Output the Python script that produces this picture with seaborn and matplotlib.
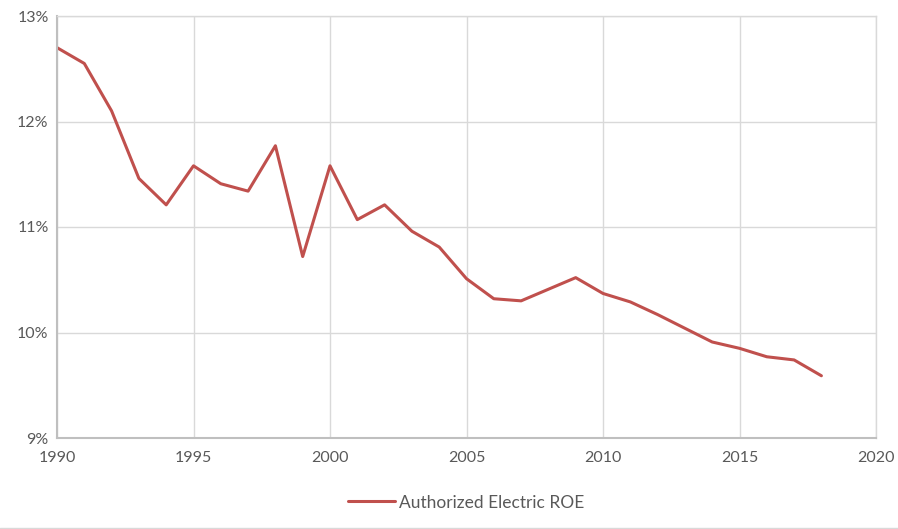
import numpy as np
import pandas as pd
import matplotlib
matplotlib.use("Agg")
import matplotlib.pyplot as plt
import seaborn as sns
from matplotlib.ticker import FuncFormatter

years = list(range(1990, 2019))
roe = [12.70, 12.55, 12.10, 11.46, 11.21, 11.58, 11.41, 11.34, 11.77, 10.72,
       11.58, 11.07, 11.21, 10.96, 10.81, 10.51, 10.32, 10.30, 10.41, 10.52,
       10.37, 10.29, 10.17, 10.04, 9.91, 9.85, 9.77, 9.74, 9.59]
series_name = "Authorized Electric ROE"

df = pd.DataFrame({"Year": years, "ROE": roe, "series": series_name})

sns.set_style("white")
plt.rcParams["font.family"] = ["Lato", "DejaVu Sans"]

fig = plt.figure(figsize=(8.98, 5.29), dpi=100)
ax = fig.add_axes([57 / 898, 1 - 438 / 529, (876 - 57) / 898, (438 - 16) / 529])

sns.lineplot(data=df, x="Year", y="ROE", hue="series", palette=["#C0504D"],
             linewidth=2.2, ax=ax, legend=True)

ax.set_xlim(1990, 2020)
ax.set_ylim(9, 13)
ax.set_xticks(range(1990, 2021, 5))
ax.set_yticks(range(9, 14))
ax.yaxis.set_major_formatter(FuncFormatter(lambda v, p: f"{v:.0f}%"))
ax.grid(True, color="#D9D9D9", linewidth=1)
ax.set_axisbelow(True)
for s in ["top", "right"]:
    ax.spines[s].set_color("#D9D9D9")
    ax.spines[s].set_linewidth(1)
for s in ["left", "bottom"]:
    ax.spines[s].set_color("#BFBFBF")
    ax.spines[s].set_linewidth(1.5)
ax.tick_params(axis="both", length=0, labelsize=11.5, labelcolor="#595959")
ax.tick_params(axis="x", pad=9)
ax.tick_params(axis="y", pad=6)
ax.set_xlabel("")
ax.set_ylabel("")

handles, labels = ax.get_legend_handles_labels()
ax.legend(handles, labels, loc="center", bbox_to_anchor=(0.5, -0.153),
          frameon=False, fontsize=12.5, labelcolor="#595959", handlelength=2.7,
          handletextpad=0.25)

fig.add_artist(plt.Line2D([0, 1], [1.5 / 529, 1.5 / 529], color="#D9D9D9", lw=1))

fig.savefig("out.png", dpi=100)
